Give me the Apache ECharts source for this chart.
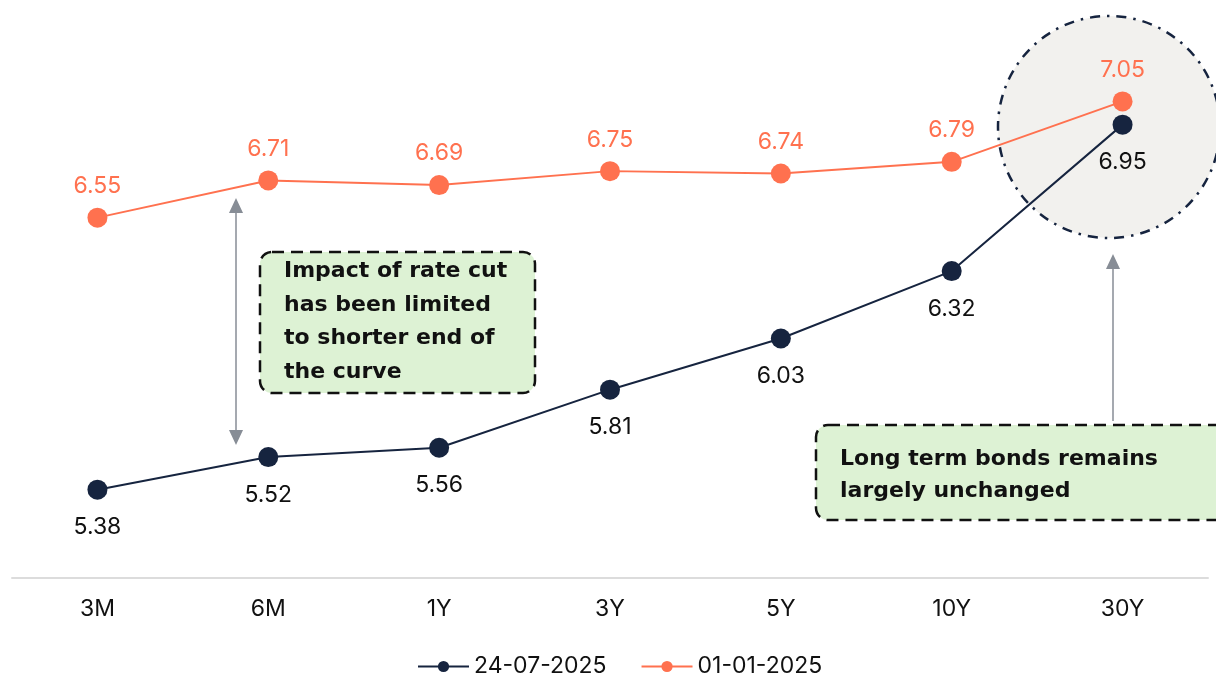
<!DOCTYPE html>
<html><head><meta charset="utf-8">
<script src="https://cdn.jsdelivr.net/npm/echarts@6/dist/echarts.min.js"></script>
<style>html,body{margin:0;padding:0;background:#fff}#c{width:1216px;height:679px}</style>
</head><body><div id="c"></div>
<script>
var categories = ['3M','6M','1Y','3Y','5Y','10Y','30Y'];
var seriesJul = [5.38, 5.52, 5.56, 5.81, 6.03, 6.32, 6.95];
var seriesJan = [6.55, 6.71, 6.69, 6.75, 6.74, 6.79, 7.05];
var seriesNames = ['24-07-2025', '01-01-2025'];
var note1 = 'Impact of rate cut\nhas been limited\nto shorter end of\nthe curve';
var note2 = 'Long term bonds remains\nlargely unchanged';

var NAVY = '#16243f', ORANGE = '#ff714f';
var FONT = 'Inter, sans-serif';
var BFONT = '"DejaVu Sans", sans-serif';
var chart = echarts.init(document.getElementById('c'));
chart.setOption({
  animation: false,
  grid: {left: 12, right: 8, top: 20, bottom: 101, containLabel: false},
  legend: {
    bottom: -4, left: 412, itemWidth: 51, itemHeight: 14, itemGap: 34,
    textStyle: {fontFamily: FONT, fontSize: 23, color: '#111'},
    data: seriesNames
  },
  xAxis: {
    type: 'category', data: categories, boundaryGap: true,
    axisLine: {lineStyle: {color: '#dcdcdc', width: 2}},
    axisTick: {show: false},
    axisLabel: {fontFamily: FONT, fontSize: 23, color: '#111', margin: 20}
  },
  yAxis: {type: 'value', min: 5, max: 7.4, show: false, splitLine: {show: false}},
  graphic: [
    {type: 'circle', shape: {cx: 1109, cy: 127, r: 111}, z: 0,
     style: {fill: '#f2f1ee', stroke: NAVY, lineWidth: 2.5, lineDash: [10, 7, 2.5, 7]}},
    {type: 'line', shape: {x1: 236, y1: 210, x2: 236, y2: 432}, z: 5, style: {stroke: '#878d96', lineWidth: 1.5}},
    {type: 'polygon', shape: {points: [[236, 198], [229, 213], [243, 213]]}, z: 5, style: {fill: '#878d96'}},
    {type: 'polygon', shape: {points: [[236, 445], [229, 430], [243, 430]]}, z: 5, style: {fill: '#878d96'}},
    {type: 'line', shape: {x1: 1113, y1: 266, x2: 1113, y2: 421}, z: 5, style: {stroke: '#878d96', lineWidth: 1.5}},
    {type: 'polygon', shape: {points: [[1113, 254], [1106, 269], [1120, 269]]}, z: 5, style: {fill: '#878d96'}},
    {type: 'rect', shape: {x: 260, y: 252, width: 275, height: 141, r: 12}, z: 10,
     style: {fill: '#ddf2d4', stroke: '#111', lineWidth: 2.5, lineDash: [12, 7]}},
    {type: 'text', x: 284, y: 255, z: 11,
     style: {text: note1, font: 'bold 22px ' + BFONT, lineHeight: 33.5, fill: '#111', textVerticalAlign: 'top'}},
    {type: 'rect', shape: {x: 816, y: 425, width: 412, height: 95, r: 12}, z: 10,
     style: {fill: '#ddf2d4', stroke: '#111', lineWidth: 2.5, lineDash: [12, 7]}},
    {type: 'text', x: 840, y: 443, z: 11,
     style: {text: note2, font: 'bold 22px ' + BFONT, lineHeight: 32, fill: '#111', textVerticalAlign: 'top'}}
  ],
  series: [
    {name: seriesNames[0], type: 'line', data: seriesJul, z: 3,
     symbol: 'circle', symbolSize: 20, itemStyle: {color: NAVY},
     lineStyle: {color: NAVY, width: 2},
     label: {show: true, position: 'bottom', distance: 16, fontFamily: FONT, fontSize: 23, color: '#111', formatter: function(p){return p.value.toFixed(2);}}},
    {name: seriesNames[1], type: 'line', data: seriesJan, z: 3,
     symbol: 'circle', symbolSize: 20, itemStyle: {color: ORANGE},
     lineStyle: {color: ORANGE, width: 2},
     label: {show: true, position: 'top', distance: 10, fontFamily: FONT, fontSize: 23, color: ORANGE, formatter: function(p){return p.value.toFixed(2);}}}
  ]
});
</script></body></html>
